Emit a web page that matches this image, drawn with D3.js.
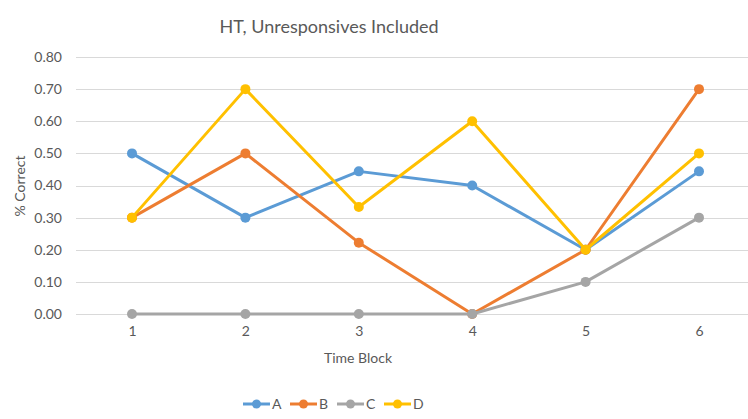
<!DOCTYPE html>
<html>
<head>
<meta charset="utf-8">
<script src="https://cdn.jsdelivr.net/npm/d3@7"></script>
<style>
  body { margin: 0; background: #fff; }
  text { font-family: Lato, "Open Sans", sans-serif; fill: #595959; }
</style>
</head>
<body>
<script>
var timeBlocks = [1, 2, 3, 4, 5, 6];
var seriesNames = ["A", "B", "C", "D"];
var seriesA = [0.50, 0.30, 0.444, 0.40, 0.20, 0.444];
var seriesB = [0.30, 0.50, 0.222, 0.00, 0.20, 0.70];
var seriesC = [0.00, 0.00, 0.00, 0.00, 0.10, 0.30];
var seriesD = [0.30, 0.70, 0.333, 0.60, 0.20, 0.50];
var yTicks = [0, 0.1, 0.2, 0.3, 0.4, 0.5, 0.6, 0.7, 0.8];
var colors = ["#5B9BD5", "#ED7D31", "#A5A5A5", "#FFC000"];

var series = [seriesA, seriesB, seriesC, seriesD].map(function(vals, i) {
    return { name: seriesNames[i], color: colors[i], values: vals };
});

var width = 748, height = 419;

var svg = d3.select("body").append("svg")
    .attr("width", width)
    .attr("height", height);

var x = d3.scalePoint()
    .domain(timeBlocks)
    .range([132, 699]);

var y = d3.scaleLinear()
    .domain([0, 0.8])
    .range([314, 57]);

// gridlines
svg.append("g").selectAll("line")
    .data(yTicks)
  .enter().append("line")
    .attr("x1", 76)
    .attr("x2", width)
    .attr("y1", function(d) { return Math.round(y(d)) + 0.5; })
    .attr("y2", function(d) { return Math.round(y(d)) + 0.5; })
    .attr("stroke", "#D9D9D9")
    .attr("stroke-width", 1);

// y axis labels
var yAxis = d3.axisLeft(y)
    .tickValues(yTicks)
    .tickSize(0)
    .tickPadding(0)
    .tickFormat(d3.format(".2f"));

svg.append("g")
    .attr("transform", "translate(62,0)")
    .call(yAxis)
    .call(function(g) { g.select(".domain").remove(); })
    .selectAll("text")
    .style("font-size", "14px")
    .attr("fill", "#595959");

// x axis labels
var xAxis = d3.axisBottom(x).tickSize(0).tickPadding(0);
svg.append("g")
    .attr("transform", "translate(0,326)")
    .call(xAxis)
    .call(function(g) { g.select(".domain").remove(); })
    .selectAll("text")
    .style("font-size", "14px")
    .attr("fill", "#595959");

// titles
svg.append("text")
    .attr("x", 329)
    .attr("y", 33)
    .attr("text-anchor", "middle")
    .style("font-size", "18px")
    .text("HT, Unresponsives Included");

svg.append("text")
    .attr("x", 358)
    .attr("y", 363)
    .attr("text-anchor", "middle")
    .style("font-size", "14px")
    .text("Time Block");

svg.append("text")
    .attr("transform", "translate(25,186) rotate(-90)")
    .attr("text-anchor", "middle")
    .style("font-size", "14px")
    .text("% Correct");

// lines
var line = d3.line()
    .x(function(d, i) { return x(timeBlocks[i]); })
    .y(function(d) { return y(d); });

var sg = svg.selectAll(".series")
    .data(series)
  .enter().append("g")
    .attr("class", "series");

sg.append("path")
    .attr("d", function(d) { return line(d.values); })
    .attr("fill", "none")
    .attr("stroke", function(d) { return d.color; })
    .attr("stroke-width", 3)
    .attr("stroke-linejoin", "round");

sg.selectAll("circle")
    .data(function(d) { return d.values.map(function(v, i) { return { v: v, i: i, color: d.color }; }); })
  .enter().append("circle")
    .attr("cx", function(d) { return x(timeBlocks[d.i]); })
    .attr("cy", function(d) { return y(d.v); })
    .attr("r", 5)
    .attr("fill", function(d) { return d.color; });

// legend
var legend = svg.selectAll(".legend")
    .data(series)
  .enter().append("g")
    .attr("class", "legend")
    .attr("transform", function(d, i) { return "translate(" + (243 + i * 47) + ",404)"; });

legend.append("line")
    .attr("x1", 0).attr("x2", 27)
    .attr("stroke", function(d) { return d.color; })
    .attr("stroke-width", 3);

legend.append("circle")
    .attr("cx", 13.5)
    .attr("r", 4.5)
    .attr("fill", function(d) { return d.color; });

legend.append("text")
    .attr("x", 29)
    .attr("dy", "0.35em")
    .style("font-size", "14px")
    .text(function(d) { return d.name; });
</script>
</body>
</html>
